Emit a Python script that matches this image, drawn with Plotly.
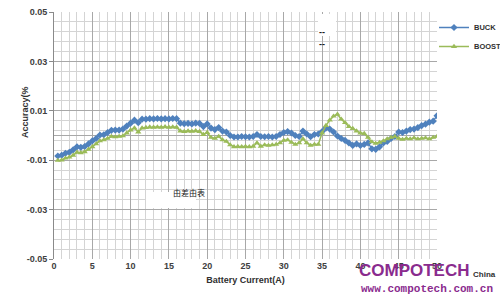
import plotly.graph_objects as go

current = [i * 0.5 for i in range(1, 101)]

buck = [-0.0083, -0.0080, -0.0072, -0.0068, -0.0058, -0.0046, -0.0048, -0.0045, -0.0034, -0.0022,
        -0.0012, 0.0002, 0.0003, 0.0012, 0.0021, 0.0022, 0.0022, 0.0026, 0.0038, 0.0050,
        0.0062, 0.0052, 0.0066, 0.0066, 0.0068, 0.0067, 0.0069, 0.0067, 0.0068, 0.0067,
        0.0069, 0.0068, 0.0050, 0.0048, 0.0049, 0.0047, 0.0050, 0.0049, 0.0036, 0.0047,
        0.0030, 0.0024, 0.0032, 0.0018, 0.0014, 0.0000, -0.0006, -0.0006, -0.0004, -0.0005,
        -0.0006, -0.0004, 0.0004, -0.0004, -0.0005, -0.0004, -0.0006, -0.0004, 0.0004, 0.0012,
        0.0016, 0.0010, 0.0000, -0.0004, 0.0018, 0.0006, -0.0005, 0.0004, 0.0006, 0.0016,
        0.0030, 0.0026, 0.0014, -0.0002, -0.0012, -0.0020, -0.0030, -0.0040, -0.0034, -0.0040,
        -0.0036, -0.0030, -0.0054, -0.0056, -0.0046, -0.0030, -0.0024, -0.0012, -0.0004, 0.0014,
        0.0012, 0.0018, 0.0024, 0.0026, 0.0032, 0.0040, 0.0046, 0.0054, 0.0058, 0.0080]

boost = [-0.0101, -0.0100, -0.0092, -0.0088, -0.0080, -0.0068, -0.0070, -0.0066, -0.0056, -0.0046,
         -0.0034, -0.0022, -0.0018, -0.0012, -0.0004, -0.0006, -0.0004, -0.0002, 0.0010, 0.0022,
         0.0030, 0.0014, 0.0030, 0.0032, 0.0034, 0.0033, 0.0034, 0.0033, 0.0035, 0.0033,
         0.0034, 0.0033, 0.0018, 0.0016, 0.0018, 0.0017, 0.0019, 0.0016, 0.0004, 0.0012,
         -0.0008, -0.0012, -0.0004, -0.0018, -0.0024, -0.0038, -0.0046, -0.0045, -0.0046, -0.0045,
         -0.0046, -0.0044, -0.0030, -0.0044, -0.0038, -0.0040, -0.0038, -0.0036, -0.0030, -0.0020,
         -0.0018, -0.0028, -0.0036, -0.0030, -0.0014, -0.0030, -0.0040, -0.0036, -0.0036, 0.0010,
         0.0040, 0.0062, 0.0078, 0.0086, 0.0066, 0.0052, 0.0036, 0.0028, 0.0018, 0.0010,
         0.0008, -0.0008, -0.0026, -0.0032, -0.0028, -0.0022, -0.0014, -0.0008, -0.0004, -0.0012,
         -0.0016, -0.0012, -0.0014, -0.0010, -0.0014, -0.0012, -0.0010, -0.0014, -0.0008, -0.0004]

series_names = ["BUCK", "BOOST"]
x_ticks = [0, 5, 10, 15, 20, 25, 30, 35, 40, 45, 50]
y_ticks = [-0.05, -0.03, -0.01, 0.01, 0.03, 0.05]

fig = go.Figure()
fig.add_trace(go.Scatter(x=current, y=buck, name=series_names[0], mode="lines+markers",
                         line=dict(color="#4F81BD", width=1.5),
                         marker=dict(symbol="diamond", size=5.5, color="#4F81BD")))
fig.add_trace(go.Scatter(x=current, y=boost, name=series_names[1], mode="lines+markers",
                         line=dict(color="#9BBB59", width=1.5),
                         marker=dict(symbol="triangle-up", size=5.5, color="#9BBB59")))

tickfont = dict(family="Liberation Sans, Arial", size=9, color="#404040", weight="bold")

L, R, T, B = 54, 63, 12, 37
PW, PH = 500 - L - R, 296 - T - B


def px(xp):
    return (xp - L) / PW


def py(yp):
    return (296 - B - yp) / PH


fig.update_layout(
    width=500, height=296,
    margin=dict(l=L, r=R, t=T, b=B, autoexpand=False),
    paper_bgcolor="white", plot_bgcolor="white",
    showlegend=True,
    legend=dict(x=px(434), y=py(13), xanchor="left", yanchor="top",
                font=dict(family="Liberation Sans, Arial", size=7.5, color="#303030", weight="bold"),
                itemwidth=30, tracegroupgap=3, bgcolor="rgba(0,0,0,0)"),
    xaxis=dict(range=[0, 50], tickvals=x_ticks, ticktext=[str(v) for v in x_ticks],
               showgrid=True, gridcolor="#a8a8a8", gridwidth=1,
               minor=dict(dtick=1, tick0=0, showgrid=True, gridcolor="#d4d4d4", gridwidth=1),
               zeroline=False, showline=False, ticks="", tickfont=tickfont,
               title=dict(text="Battery Current(A)", standoff=6,
                          font=dict(family="Liberation Sans, Arial", size=9, color="#303030", weight="bold"))),
    yaxis=dict(range=[-0.05, 0.05], tickvals=y_ticks, ticktext=["%.2f" % v for v in y_ticks],
               showgrid=True, gridcolor="#a8a8a8", gridwidth=1,
               minor=dict(dtick=0.004, tick0=-0.05, showgrid=True, gridcolor="#d4d4d4", gridwidth=1),
               zeroline=True, zerolinecolor="#a8a8a8", zerolinewidth=1,
               showline=True, linecolor="#8a8a8a", linewidth=1,
               ticks="outside", ticklen=4, tickcolor="#8a8a8a", tickfont=tickfont),
)

fig.add_annotation(xref="paper", yref="paper", x=px(18), y=py(112), text="Accuracy(%",
                   textangle=-90, showarrow=False,
                   font=dict(family="Liberation Sans, Arial", size=9, color="#303030", weight="bold"))

# white patches with artifacts
fig.add_shape(type="rect", xref="paper", yref="paper", x0=px(318), x1=px(336),
              y0=py(36), y1=py(14), fillcolor="white", line=dict(width=0))
fig.add_annotation(xref="paper", yref="paper", x=px(327), y=py(25),
                   text="--<br>--", showarrow=False,
                   font=dict(family="Liberation Sans", size=9, color="#202020", weight="bold"))
fig.add_shape(type="rect", xref="paper", yref="paper", x0=px(146), x1=px(196),
              y0=py(208), y1=py(192), fillcolor="white", line=dict(width=0))
fig.add_annotation(xref="paper", yref="paper", x=px(171), y=py(200),
                   text="由差由表", showarrow=False,
                   font=dict(family="Noto Sans CJK SC", size=8, color="#202020"))

# watermark
fig.add_annotation(xref="paper", yref="paper", x=px(357), y=py(270),
                   xanchor="left", yanchor="middle", text="COMPOTECH", showarrow=False,
                   font=dict(family="Liberation Sans", size=17,
                             color="#8a2b8e", weight="bold"))
fig.add_annotation(xref="paper", yref="paper", x=px(471), y=py(274),
                   xanchor="left", yanchor="middle", text="China", showarrow=False,
                   font=dict(family="Liberation Sans", size=8, color="#303030", weight="bold"))
fig.add_annotation(xref="paper", yref="paper", x=px(359), y=py(289),
                   xanchor="left", yanchor="middle", text="www.compotech.com.cn",
                   showarrow=False,
                   font=dict(family="Liberation Mono, DejaVu Sans Mono", size=11, color="#8a2b8e",
                             weight="bold"))

fig.write_html("out.html")
